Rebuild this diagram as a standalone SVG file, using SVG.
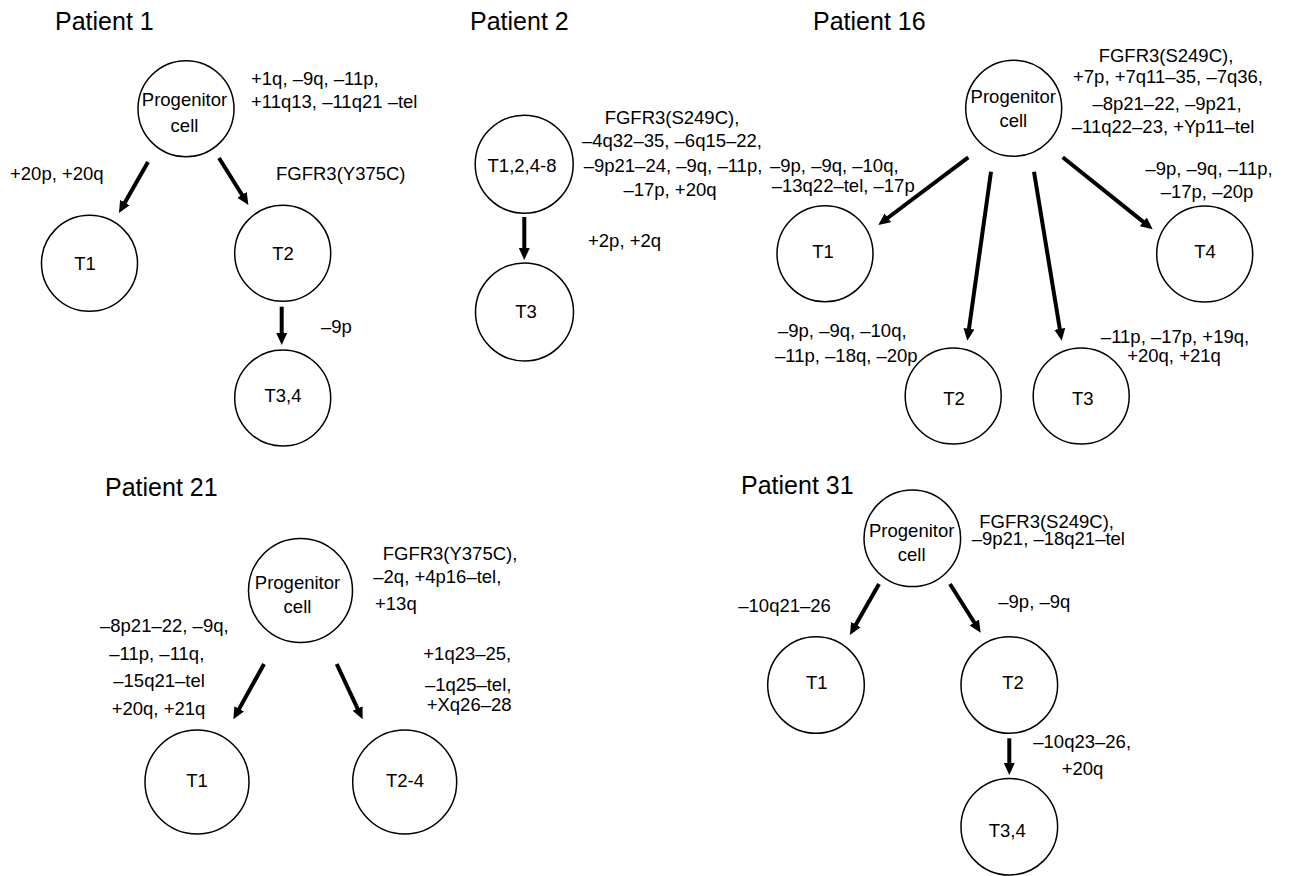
<svg xmlns="http://www.w3.org/2000/svg" width="1292" height="876" viewBox="0 0 1292 876">
<style>
text{font-family:"Liberation Sans",Arial,sans-serif;fill:#000}
.t{font-size:25px}
.a{font-size:18.5px}
.m{text-anchor:middle}
.n{fill:#fff;stroke:#000;stroke-width:1.5}
.c line{stroke:#000;stroke-width:4;marker-end:url(#ah)}
</style>
<defs>
<marker id="ah" markerUnits="userSpaceOnUse" markerWidth="12" markerHeight="12" viewBox="0 0 12 12" refX="2" refY="6" orient="auto">
<path d="M0,0.5 L12,6 L0,11.5 z" fill="#000"/>
</marker>
</defs>
<rect width="1292" height="876" fill="#fff"/>

<!-- titles -->
<g id="titles">
<text class="t" x="55" y="30">Patient 1</text>
<text class="t" x="470" y="30">Patient 2</text>
<text class="t" x="813" y="30">Patient 16</text>
<text class="t" x="105" y="496">Patient 21</text>
<text class="t" x="741" y="494">Patient 31</text>
</g>

<!-- connectors -->
<g class="c" id="connectors">
<line x1="148" y1="162" x2="123.9" y2="204.3"/>
<line x1="219" y1="158" x2="243.1" y2="196.5"/>
<line x1="281.7" y1="306.7" x2="281.7" y2="335"/>
<line x1="524.3" y1="217" x2="524.3" y2="250"/>
<line x1="968.3" y1="157.3" x2="886.3" y2="219"/>
<line x1="991" y1="171.7" x2="968.7" y2="330.8"/>
<line x1="1034" y1="171.7" x2="1060.1" y2="330.8"/>
<line x1="1062.7" y1="157.3" x2="1144.9" y2="223.1"/>
<line x1="264" y1="664" x2="238.2" y2="710.6"/>
<line x1="336.7" y1="664" x2="358.4" y2="710.3"/>
<line x1="879" y1="584" x2="854.9" y2="626.3"/>
<line x1="950" y1="584" x2="975.4" y2="624.2"/>
<line x1="1009.3" y1="738.3" x2="1009.3" y2="765"/>
</g>

<!-- Patient 1 -->
<g id="p1-prog"><circle class="n" cx="186" cy="108.7" r="48"/><text class="a m" x="184.5" y="106">Progenitor</text><text class="a m" x="184.5" y="131.5">cell</text></g>
<g id="p1-t1"><circle class="n" cx="89.5" cy="263.3" r="48"/><text class="a m" x="85" y="270">T1</text></g>
<g id="p1-t2"><circle class="n" cx="282.7" cy="253.3" r="48"/><text class="a m" x="283" y="260">T2</text></g>
<g id="p1-t34"><circle class="n" cx="282.7" cy="398" r="48"/><text class="a m" x="283" y="402">T3,4</text></g>
<g id="p1-labels">
<text class="a" x="251" y="85">+1q, –9q, –11p,</text>
<text class="a" x="251" y="108.3">+11q13, –11q21 –tel</text>
<text class="a" x="10" y="180">+20p, +20q</text>
<text class="a" x="276" y="180">FGFR3(Y375C)</text>
<text class="a" x="321" y="333.3">–9p</text>
</g>

<!-- Patient 2 -->
<g id="p2-t1"><circle class="n" cx="524.2" cy="164.2" r="49"/><text class="a m" x="522" y="172">T1,2,4-8</text></g>
<g id="p2-t3"><circle class="n" cx="524.5" cy="312" r="49"/><text class="a m" x="526" y="318">T3</text></g>
<g id="p2-labels">
<text class="a m" x="672" y="124">FGFR3(S249C),</text>
<text class="a m" x="672" y="146.7">–4q32–35, –6q15–22,</text>
<text class="a m" x="673" y="171.5">–9p21–24, –9q, –11p,</text>
<text class="a m" x="670" y="196">–17p, +20q</text>
<text class="a" x="588" y="246.7">+2p, +2q</text>
</g>

<!-- Patient 16 -->
<g id="p16-prog"><circle class="n" cx="1013.7" cy="108.3" r="48"/><text class="a m" x="1013.3" y="103.3">Progenitor</text><text class="a m" x="1013.3" y="127.3">cell</text></g>
<g id="p16-t1"><circle class="n" cx="825" cy="253.7" r="48"/><text class="a m" x="823" y="258">T1</text></g>
<g id="p16-t2"><circle class="n" cx="953.2" cy="396" r="48"/><text class="a m" x="954" y="405">T2</text></g>
<g id="p16-t3"><circle class="n" cx="1081.2" cy="396" r="48"/><text class="a m" x="1082.7" y="405">T3</text></g>
<g id="p16-t4"><circle class="n" cx="1204.7" cy="254" r="48"/><text class="a m" x="1205" y="258">T4</text></g>
<g id="p16-labels">
<text class="a m" x="1166" y="61.7">FGFR3(S249C),</text>
<text class="a m" x="1168" y="82.7">+7p, +7q11–35, –7q36,</text>
<text class="a m" x="1167" y="110">–8p21–22, –9p21,</text>
<text class="a m" x="1163" y="133.3">–11q22–23, +Yp11–tel</text>
<text class="a" x="770" y="171.5">–9p, –9q, –10q,</text>
<text class="a" x="771.7" y="191.7">–13q22–tel, –17p</text>
<text class="a m" x="1209" y="175">–9p, –9q, –11p,</text>
<text class="a m" x="1207" y="198.3">–17p, –20p</text>
<text class="a" x="778" y="336.7">–9p, –9q, –10q,</text>
<text class="a" x="775" y="361.7">–11p, –18q, –20p</text>
<text class="a m" x="1175" y="343.3">–11p, –17p, +19q,</text>
<text class="a m" x="1174" y="361.7">+20q, +21q</text>
</g>

<!-- Patient 21 -->
<g id="p21-prog"><circle class="n" cx="300.5" cy="590.5" r="52"/><text class="a m" x="297.5" y="589.3">Progenitor</text><text class="a m" x="297.5" y="612.7">cell</text></g>
<g id="p21-t1"><circle class="n" cx="197" cy="782" r="52"/><text class="a m" x="197" y="786.7">T1</text></g>
<g id="p21-t24"><circle class="n" cx="404.7" cy="782" r="52"/><text class="a m" x="405" y="786.7">T2-4</text></g>
<g id="p21-labels">
<text class="a" x="382.7" y="560">FGFR3(Y375C),</text>
<text class="a" x="373.3" y="583.3">–2q, +4p16–tel,</text>
<text class="a" x="375" y="610">+13q</text>
<text class="a" x="100" y="631.7">–8p21–22, –9q,</text>
<text class="a" x="109.3" y="660">–11p, –11q,</text>
<text class="a" x="113.3" y="686.7">–15q21–tel</text>
<text class="a" x="111.7" y="715">+20q, +21q</text>
<text class="a" x="423.3" y="660">+1q23–25,</text>
<text class="a" x="425" y="690.7">–1q25–tel,</text>
<text class="a" x="426.7" y="710.7">+Xq26–28</text>
</g>

<!-- Patient 31 -->
<g id="p31-prog"><circle class="n" cx="912.3" cy="538.3" r="48.3"/><text class="a m" x="911.7" y="537.3">Progenitor</text><text class="a m" x="911.7" y="560.7">cell</text></g>
<g id="p31-t1"><circle class="n" cx="816" cy="685" r="48.3"/><text class="a m" x="816.7" y="689.3">T1</text></g>
<g id="p31-t2"><circle class="n" cx="1009.3" cy="685" r="48.3"/><text class="a m" x="1013" y="689.3">T2</text></g>
<g id="p31-t34"><circle class="n" cx="1009.3" cy="826.7" r="48.3"/><text class="a m" x="1007.3" y="836.7">T3,4</text></g>
<g id="p31-labels">
<text class="a" x="979.3" y="528.3">FGFR3(S249C),</text>
<text class="a" x="971.7" y="545">–9p21, –18q21–tel</text>
<text class="a" x="738.3" y="611.7">–10q21–26</text>
<text class="a" x="998.3" y="608">–9p, –9q</text>
<text class="a" x="1033.3" y="748">–10q23–26,</text>
<text class="a" x="1061.7" y="775">+20q</text>
</g>
</svg>
